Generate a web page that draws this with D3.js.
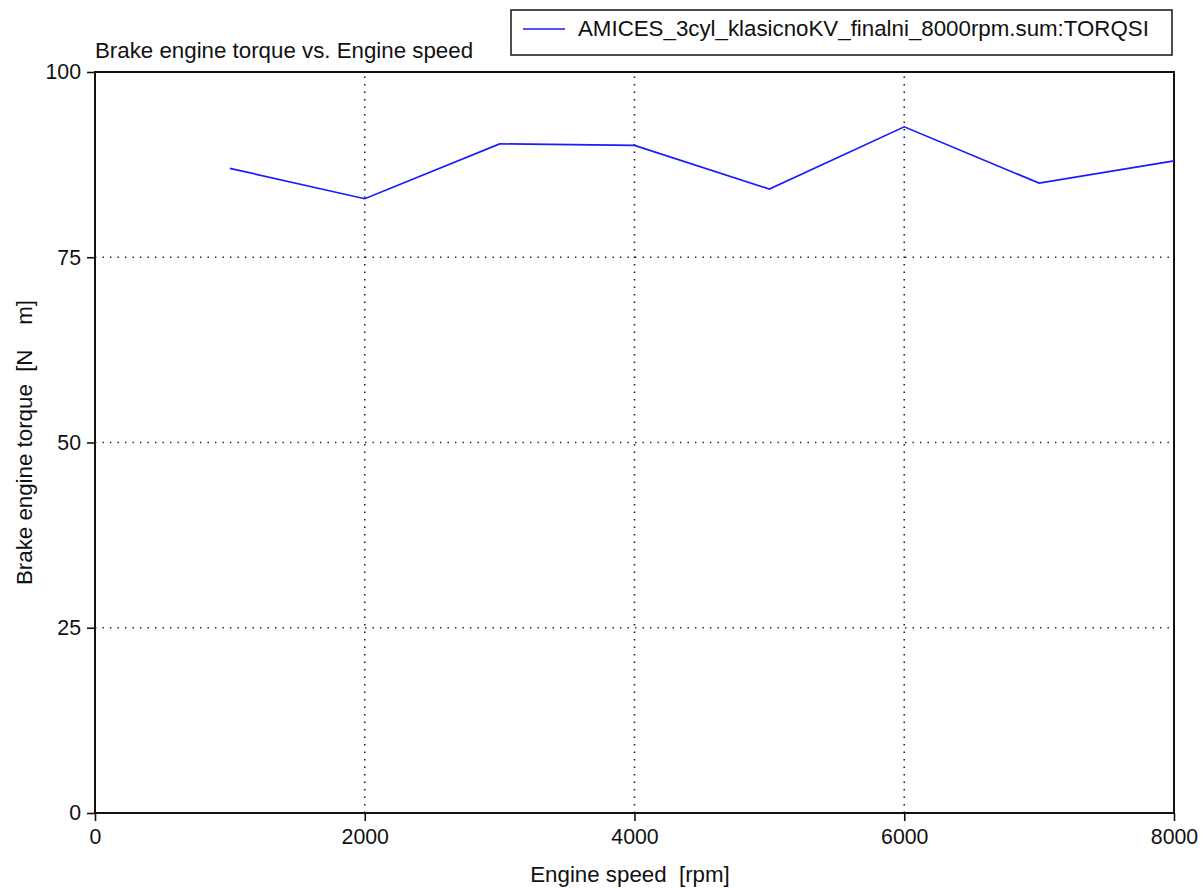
<!DOCTYPE html>
<html>
<head>
<meta charset="utf-8">
<script src="https://cdn.jsdelivr.net/npm/d3@7"></script>
<style>
  html, body { margin: 0; padding: 0; background: #fff; }
  svg text { font-family: "Liberation Sans", Arial, sans-serif; fill: #111; white-space: pre; }
</style>
</head>
<body>
<svg id="chart" width="1204" height="888"></svg>
<script>
// Engine speed sweep points [rpm] and brake torque [N m]
const engineSpeed = [1000, 2000, 3000, 4000, 5000, 6000, 7000, 8000];
const brakeTorque = [87.0, 82.9, 90.3, 90.1, 84.2, 92.6, 85.0, 88.0];

const xTicks = [0, 2000, 4000, 6000, 8000];
const yTicks = [0, 25, 50, 75, 100];
const xGrid = [2000, 4000, 6000];
const yGrid = [25, 50, 75];

const seriesName = "AMICES_3cyl_klasicnoKV_finalni_8000rpm.sum:TORQSI";
const chartTitle = "Brake engine torque vs. Engine speed";
const xLabel = "Engine speed  [rpm]";
const yLabel = "Brake engine torque  [N    m]";

const plot = { left: 95, right: 1174, top: 72, bottom: 813 };
const labelSize = 22.3;
const tickSize = 21.3;
const svg = d3.select("#chart");

const x = d3.scaleLinear().domain([0, 8000]).range([plot.left, plot.right]);
const y = d3.scaleLinear().domain([0, 100]).range([plot.bottom, plot.top]);

// dotted grid
const grid = svg.append("g").attr("stroke", "#222").attr("stroke-width", 1.6)
  .attr("stroke-dasharray", "1.4,6.1");
grid.selectAll("line.gx").data(xGrid).join("line")
  .attr("x1", d => x(d)).attr("x2", d => x(d))
  .attr("y1", plot.bottom).attr("y2", plot.top);
grid.selectAll("line.gy").data(yGrid).join("line")
  .attr("y1", d => y(d)).attr("y2", d => y(d))
  .attr("x1", plot.left).attr("x2", plot.right);

// axes with outward ticks
const xAxis = d3.axisBottom(x).tickValues(xTicks).tickSize(8).tickPadding(8)
  .tickFormat(d3.format("d"));
const yAxis = d3.axisLeft(y).tickValues(yTicks).tickSize(8).tickPadding(6)
  .tickFormat(d3.format("d"));

const gx = svg.append("g").attr("transform", `translate(0,${plot.bottom})`).call(xAxis);
const gy = svg.append("g").attr("transform", `translate(${plot.left},0)`).call(yAxis);
[gx, gy].forEach(g => {
  g.select(".domain").remove();
  g.selectAll(".tick line").attr("stroke", "#111").attr("stroke-width", 1.6);
  g.selectAll(".tick text").attr("font-size", tickSize).attr("fill", "#111")
    .attr("font-family", "Liberation Sans, Arial, sans-serif");
});

// plot frame
svg.append("rect")
  .attr("x", plot.left).attr("y", plot.top)
  .attr("width", plot.right - plot.left).attr("height", plot.bottom - plot.top)
  .attr("fill", "none").attr("stroke", "#111").attr("stroke-width", 2);

// torque curve
const line = d3.line().x((d, i) => x(engineSpeed[i])).y(d => y(d));
svg.append("path").datum(brakeTorque)
  .attr("d", line).attr("fill", "none")
  .attr("stroke", "#1a1aff").attr("stroke-width", 1.7);

// title and axis labels
svg.append("text").attr("x", 95).attr("y", 58).attr("font-size", labelSize).text(chartTitle);
svg.append("text").attr("x", 630).attr("y", 882)
  .attr("text-anchor", "middle").attr("font-size", labelSize).text(xLabel);
svg.append("text")
  .attr("transform", `translate(32,${(plot.top + plot.bottom) / 2}) rotate(-90)`)
  .attr("text-anchor", "middle").attr("font-size", labelSize).text(yLabel);

// legend
const lg = svg.append("g");
lg.append("rect").attr("x", 511).attr("y", 10).attr("width", 661).attr("height", 45)
  .attr("fill", "#fff").attr("stroke", "#222").attr("stroke-width", 1.6);
lg.append("line").attr("x1", 523).attr("x2", 565).attr("y1", 29).attr("y2", 29)
  .attr("stroke", "#1a1aff").attr("stroke-width", 1.7);
lg.append("text").attr("x", 578).attr("y", 36).attr("font-size", labelSize).text(seriesName);
</script>
</body>
</html>
